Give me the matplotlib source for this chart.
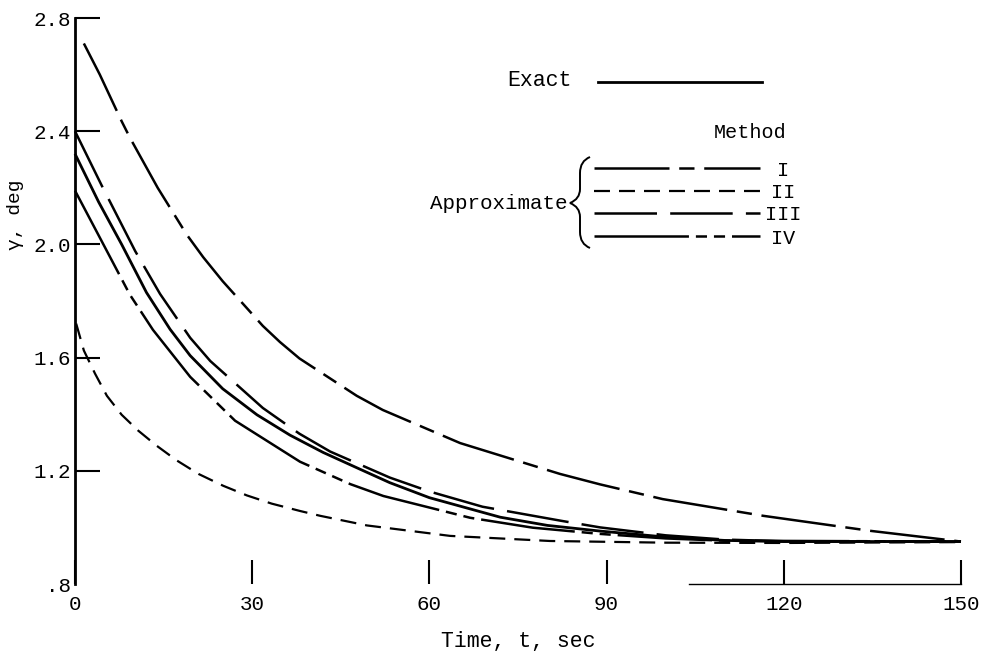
import matplotlib
matplotlib.use("Agg")
import matplotlib.pyplot as plt
from matplotlib.lines import Line2D
from matplotlib.path import Path
from matplotlib.patches import PathPatch

plt.rcParams["font.family"] = ["Liberation Mono", "DejaVu Sans Mono", "DejaVu Sans"]
plt.rcParams["lines.scale_dashes"] = False

# Flight-path angle histories, gamma (deg) vs time (sec)
t_exact = [0, 4, 7.9, 12.1, 16.1, 19.5, 25, 30.8, 36.4, 42, 48, 53.3, 60, 72, 80, 88.9, 100, 110, 120, 135, 150]
g_exact = [2.32, 2.15, 2.00, 1.83, 1.70, 1.607, 1.49, 1.398, 1.326, 1.265, 1.208, 1.158, 1.105, 1.036, 1.007,
           0.987, 0.966, 0.954, 0.95, 0.95, 0.95]

t_m1 = [1.5, 4.2, 7.9, 9.3, 14, 18.9, 21.7, 25, 31.8, 34.7, 38, 47.7, 52.1, 65.2, 82.1, 88.9, 99.5, 116.5, 134.6, 150]
g_m1 = [2.71, 2.60, 2.435, 2.377, 2.20, 2.035, 1.955, 1.87, 1.712, 1.655, 1.597, 1.465, 1.415, 1.298, 1.189, 1.152,
        1.10, 1.041, 0.988, 0.95]

t_m2 = [0.2, 1.5, 3.4, 5.4, 7.9, 10.7, 13.8, 17.2, 20.9, 25.1, 29.1, 33.3, 38.1, 41.5, 49.4, 63.5, 80.4, 100, 120, 150]
g_m2 = [1.72, 1.625, 1.543, 1.465, 1.398, 1.342, 1.289, 1.237, 1.189, 1.147, 1.113, 1.084, 1.058, 1.041, 1.007,
        0.970, 0.952, 0.946, 0.945, 0.948]

t_m3 = [0, 4.5, 10.2, 14.4, 19.5, 22.9, 31.8, 38, 43.2, 53.3, 60, 69, 82.4, 88.9, 100, 110, 120, 150]
g_m3 = [2.40, 2.209, 1.976, 1.825, 1.67, 1.588, 1.422, 1.331, 1.268, 1.176, 1.127, 1.073, 1.023, 1.0, 0.972,
        0.957, 0.951, 0.95]

t_m4 = [0, 4.0, 9.3, 13.2, 19.5, 27.1, 38.1, 46.6, 52.2, 66.9, 77.5, 88.9, 100, 110, 150]
g_m4 = [2.19, 2.032, 1.822, 1.698, 1.532, 1.377, 1.232, 1.153, 1.111, 1.034, 0.999, 0.977, 0.961, 0.953, 0.95]

x_ticks = [0, 30, 60, 90, 120, 150]
x_labels = ["0", "30", "60", "90", "120", "150"]
y_ticks = [0.8, 1.2, 1.6, 2.0, 2.4, 2.8]
y_labels = [".8", "1.2", "1.6", "2.0", "2.4", "2.8"]

method_names = ["I", "II", "III", "IV"]

# line styles (dash lengths in points)
STYLES = {
    "Exact": dict(linestyle="-", linewidth=2.0),
    "I": dict(linestyle=(0, (54, 7, 11, 7)), linewidth=1.8),
    "II": dict(linestyle=(0, (11.5, 6.5)), linewidth=1.6),
    "III": dict(linestyle=(0, (45, 9.5)), linewidth=1.8),
    "IV": dict(linestyle=(0, (68, 5, 8, 5, 8, 5)), linewidth=1.8),
}

W, H = 986, 655
fig = plt.figure(figsize=(W / 100, H / 100), dpi=100)
ax = fig.add_axes([75 / W, 1 - 584 / H, (961 - 75) / W, (584 - 18) / H])
ax.set_xlim(0, 150)
ax.set_ylim(0.8, 2.8)

series = [("Exact", t_exact, g_exact), ("I", t_m1, g_m1), ("II", t_m2, g_m2),
          ("III", t_m3, g_m3), ("IV", t_m4, g_m4)]
for name, t, g in series:
    ax.plot(t, g, color="black", dash_capstyle="butt", solid_capstyle="butt",
            solid_joinstyle="round", dash_joinstyle="round",
            clip_on=False, **STYLES[name])

for side in ("top", "right"):
    ax.spines[side].set_visible(False)
ax.spines["left"].set_linewidth(2.0)
ax.spines["bottom"].set_linewidth(1.0)
ax.spines["bottom"].set_bounds(104, 150)

ax.set_xticks(x_ticks)
ax.set_xticklabels(x_labels)
ax.set_yticks(y_ticks)
ax.set_yticklabels(y_labels)
ax.tick_params(axis="x", direction="in", length=17, width=1.5, pad=8, labelsize=15)
ax.tick_params(axis="y", direction="in", length=18, width=1.5, pad=3, labelsize=15)
ax.yaxis.get_major_ticks()[0].tick1line.set_visible(False)

ax.set_xlabel("Time, t, sec", fontsize=15.5)
ax.xaxis.set_label_coords(0.5, -0.083)
ax.set_ylabel("γ, deg", fontsize=14)
ax.yaxis.set_label_coords(-0.058, 0.652)


def fx(x):
    return x / W


def fy(y):
    return 1 - y / H


# key
fig.text(fx(572), fy(80), "Exact", ha="right", va="center", fontsize=15.5)
fig.add_artist(Line2D([fx(598), fx(762)], [fy(82), fy(82)], color="black", **STYLES["Exact"]))
fig.text(fx(750), fy(132), "Method", ha="center", va="center", fontsize=14.5)
fig.text(fx(568), fy(203), "Approximate", ha="right", va="center", fontsize=15)

for name, yk in zip(method_names, [168, 191, 213, 236]):
    fig.add_artist(Line2D([fx(594), fx(760)], [fy(yk), fy(yk)], color="black",
                          dash_capstyle="butt", **STYLES[name]))
    fig.text(fx(783), fy(yk + 2), name, ha="center", va="center", fontsize=14.5)

# curly brace grouping the approximate methods
bx, top, mid, bot = 590, 157, 203, 248
verts = [(bx, top), (bx - 10, top + 4), (bx - 10, top + 16),
         (bx - 10, mid - 14), (bx - 10, mid - 4), (bx - 20, mid),
         (bx - 10, mid + 4), (bx - 10, mid + 14),
         (bx - 10, bot - 16), (bx - 10, bot - 4), (bx, bot)]
codes = [Path.MOVETO, Path.CURVE3, Path.CURVE3,
         Path.LINETO, Path.CURVE3, Path.CURVE3,
         Path.CURVE3, Path.CURVE3,
         Path.LINETO, Path.CURVE3, Path.CURVE3]
brace = Path([(fx(x), fy(y)) for x, y in verts], codes)
fig.add_artist(PathPatch(brace, transform=fig.transFigure, fill=False,
                         edgecolor="black", linewidth=1.4))

fig.savefig("out.png", dpi=100)
